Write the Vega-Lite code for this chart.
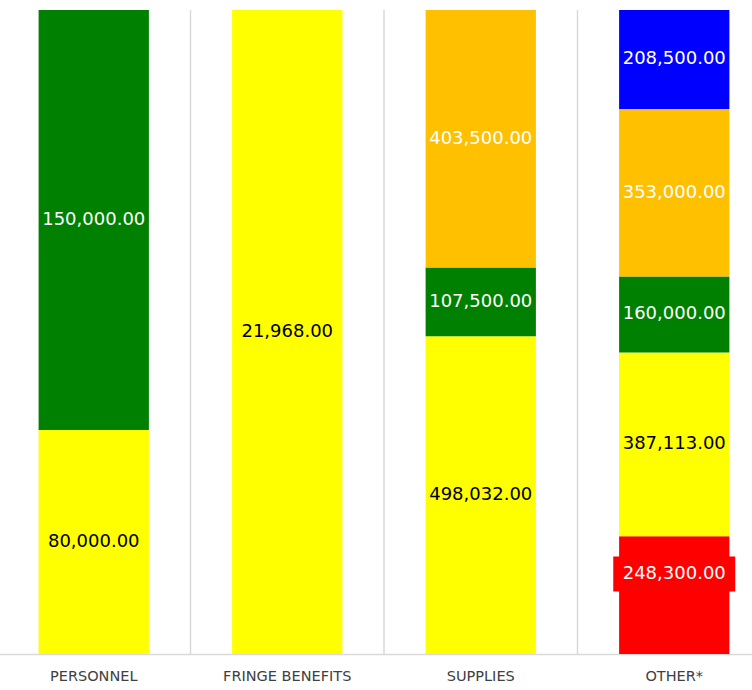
{
  "$schema": "https://vega.github.io/schema/vega-lite/v6.json",
  "autosize": {"type": "none"},
  "width": 774,
  "height": 644,
  "padding": {"left": -3, "top": 10, "right": 0, "bottom": 36},
  "background": "white",
  "config": {"view": {"stroke": null}},
  "data": {
    "values": [
      {"category": "PERSONNEL", "source": "Yellow", "rank": 2, "amount": 80000},
      {"category": "PERSONNEL", "source": "Green", "rank": 3, "amount": 150000},
      {"category": "FRINGE BENEFITS", "source": "Yellow", "rank": 2, "amount": 21968},
      {"category": "SUPPLIES", "source": "Yellow", "rank": 2, "amount": 498032},
      {"category": "SUPPLIES", "source": "Green", "rank": 3, "amount": 107500},
      {"category": "SUPPLIES", "source": "Orange", "rank": 4, "amount": 403500},
      {"category": "OTHER*", "source": "Red", "rank": 1, "amount": 248300},
      {"category": "OTHER*", "source": "Yellow", "rank": 2, "amount": 387113},
      {"category": "OTHER*", "source": "Green", "rank": 3, "amount": 160000},
      {"category": "OTHER*", "source": "Orange", "rank": 4, "amount": 353000},
      {"category": "OTHER*", "source": "Blue", "rank": 5, "amount": 208500}
    ]
  },
  "encoding": {
    "x": {
      "field": "category",
      "type": "nominal",
      "sort": ["PERSONNEL", "FRINGE BENEFITS", "SUPPLIES", "OTHER*"],
      "scale": {"paddingInner": 0.43, "paddingOuter": 0.215},
      "axis": {
        "title": null,
        "labelAngle": 0,
        "labelFont": "DejaVu Sans",
        "labelFontSize": 14.5,
        "labelColor": "#404040",
        "labelPadding": 15,
        "ticks": false,
        "domainColor": "#d9d9d9",
        "domainWidth": 1.5,
        "grid": false
      }
    }
  },
  "layer": [
    {
      "transform": [{"filter": "datum.rank === 2 && datum.category !== 'PERSONNEL'"}],
      "mark": {"type": "rule", "color": "#d9d9d9", "strokeWidth": 1.5, "xOffset": -41.6},
      "encoding": {
        "x": {"field": "category", "type": "nominal", "bandPosition": 0, "sort": ["PERSONNEL", "FRINGE BENEFITS", "SUPPLIES", "OTHER*"]}
      }
    },
    {
      "mark": {"type": "bar"},
      "encoding": {
        "y": {"field": "amount", "type": "quantitative", "stack": "normalize", "axis": null},
        "order": {"field": "rank", "type": "quantitative"},
        "color": {
          "field": "source",
          "type": "nominal",
          "scale": {
            "domain": ["Red", "Yellow", "Green", "Orange", "Blue"],
            "range": ["#FF0000", "#FFFF00", "#008000", "#FFC000", "#0000FF"]
          },
          "legend": null
        }
      }
    },
    {
      "mark": {"type": "text", "font": "DejaVu Sans", "fontSize": 18, "baseline": "middle"},
      "encoding": {
        "y": {"field": "amount", "type": "quantitative", "stack": "normalize", "bandPosition": 0.5},
        "order": {"field": "rank", "type": "quantitative"},
        "detail": {"field": "source"},
        "text": {"field": "amount", "type": "quantitative", "format": ",.2f"},
        "color": {"condition": {"test": "datum.source === 'Yellow'", "value": "#000000"}, "value": "#FFFFFF"},
        "opacity": {"condition": {"test": "datum.source === 'Red'", "value": 0}, "value": 1}
      }
    },
    {
      "mark": {"type": "point", "shape": "M-1,-0.287H1V0.287H-1Z", "size": 14884, "filled": true, "fill": "#FF0000", "strokeWidth": 0, "yOffset": -21},
      "encoding": {
        "y": {"field": "amount", "type": "quantitative", "stack": "normalize", "bandPosition": 0.5},
        "order": {"field": "rank", "type": "quantitative"},
        "detail": {"field": "source"},
        "opacity": {"condition": {"test": "datum.source === 'Red'", "value": 1}, "value": 0}
      }
    },
    {
      "mark": {"type": "text", "font": "DejaVu Sans", "fontSize": 18, "baseline": "middle", "color": "#FFFFFF", "yOffset": -21},
      "encoding": {
        "y": {"field": "amount", "type": "quantitative", "stack": "normalize", "bandPosition": 0.5},
        "order": {"field": "rank", "type": "quantitative"},
        "detail": {"field": "source"},
        "text": {"field": "amount", "type": "quantitative", "format": ",.2f"},
        "opacity": {"condition": {"test": "datum.source === 'Red'", "value": 1}, "value": 0}
      }
    }
  ]
}
